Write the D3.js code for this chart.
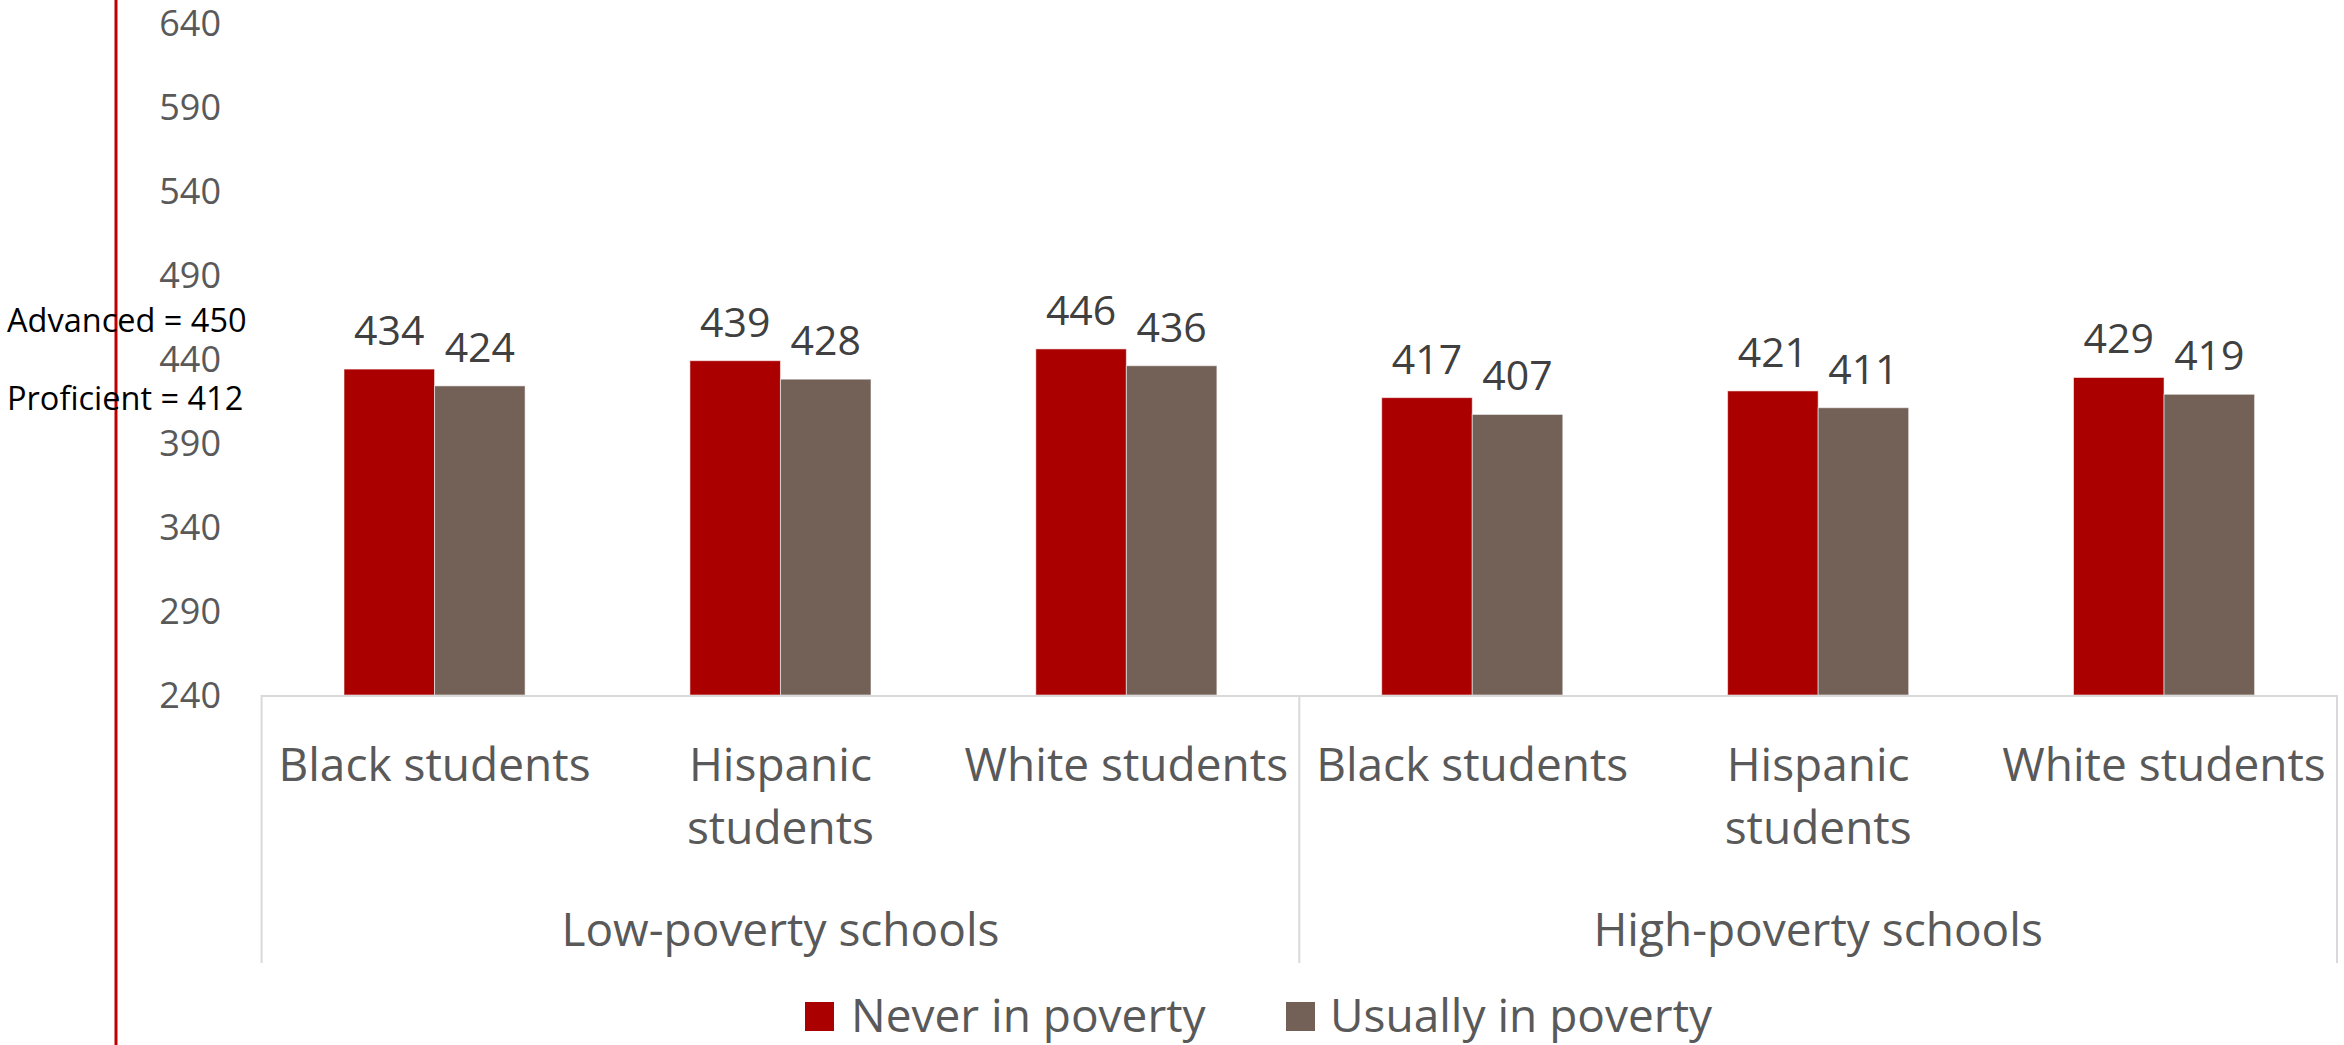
<!DOCTYPE html>
<html>
<head>
<meta charset="utf-8">
<script src="https://cdn.jsdelivr.net/npm/d3@7"></script>
<style>
  html, body { margin: 0; padding: 0; background: #fff; }
  svg { display: block; font-family: "Open Sans", sans-serif; }
</style>
</head>
<body>
<svg id="chart" width="2344" height="1045"></svg>
<script>
// ---- data ----
const groups = ["Low-poverty schools", "High-poverty schools"];
const categories = ["Black students", "Hispanic students", "White students",
                    "Black students", "Hispanic students", "White students"];
const categoryGroup = [0, 0, 0, 1, 1, 1];
const seriesNames = ["Never in poverty", "Usually in poverty"];
const neverInPoverty = [434, 439, 446, 417, 421, 429];
const usuallyInPoverty = [424, 428, 436, 407, 411, 419];
const yTicks = [240, 290, 340, 390, 440, 490, 540, 590, 640];
const annotations = ["Advanced = 450", "Proficient = 412"];
const colors = ["#ab0000", "#736158"];

// ---- layout ----
const W = 2344, H = 1045;
const plotLeft = 261.6, plotRight = 2337, plotTop = 23, plotBottom = 695;
const svg = d3.select("#chart");

const y = d3.scaleLinear().domain([240, 640]).range([plotBottom, plotTop]);
const x = d3.scaleBand().domain(d3.range(categories.length)).range([plotLeft, plotRight]).padding(0);
const step = x.bandwidth();
const groupW = step * 0.5235;
const xs = d3.scaleBand().domain([0, 1]).range([(step - groupW) / 2, (step + groupW) / 2]).padding(0);

// y tick labels
const yAxis = d3.axisLeft(y).tickValues(yTicks).tickSize(0).tickPadding(0);
const ya = svg.append("g").attr("transform", "translate(221,0)").call(yAxis);
ya.select(".domain").remove();
ya.selectAll("text")
  .attr("font-family", "Open Sans, sans-serif")
  .attr("font-size", 36)
  .attr("fill", "#595959")
  .attr("dy", "0.36em");

// bars
const seriesData = [neverInPoverty, usuallyInPoverty];
seriesData.forEach((vals, si) => {
  const g = svg.append("g");
  g.selectAll("rect").data(vals).join("rect")
    .attr("x", (d, i) => x(i) + xs(si))
    .attr("y", d => y(d))
    .attr("width", xs.bandwidth())
    .attr("height", d => y(240) - y(d))
    .attr("fill", colors[si])
    .attr("stroke", "rgba(255,255,255,0.55)")
    .attr("stroke-width", 1);
  g.selectAll("text").data(vals).join("text")
    .attr("x", (d, i) => x(i) + xs(si) + xs.bandwidth() / 2)
    .attr("y", d => y(d) - 24)
    .attr("text-anchor", "middle")
    .attr("font-size", 41)
    .attr("fill", "#404040")
    .text(d => d);
});

// category axis lines
const axisColor = "#d9d9d9";
svg.append("line")
  .attr("x1", plotLeft).attr("x2", plotRight)
  .attr("y1", plotBottom + 1).attr("y2", plotBottom + 1)
  .attr("stroke", axisColor).attr("stroke-width", 2);
const dividers = [0, 3, 6].map(i => i < categories.length ? x(i) : plotRight);
svg.selectAll(".div").data(dividers).join("line")
  .attr("x1", d => d).attr("x2", d => d)
  .attr("y1", plotBottom).attr("y2", 963)
  .attr("stroke", axisColor).attr("stroke-width", 2);

// category labels (wrapped)
const catG = svg.append("g");
categories.forEach((c, i) => {
  const cx = x(i) + step / 2;
  const t = catG.append("text")
    .attr("x", cx).attr("y", 781)
    .attr("text-anchor", "middle")
    .attr("font-size", 46)
    .attr("fill", "#595959")
    .text(c);
  if (t.node().getComputedTextLength() > step - 6) {
    const words = c.split(" ");
    t.text(null);
    t.append("tspan").attr("x", cx).attr("dy", 0).text(words[0]);
    t.append("tspan").attr("x", cx).attr("dy", 63).text(words.slice(1).join(" "));
  }
});

// group labels
groups.forEach((gname, gi) => {
  const idx = categoryGroup.map((g, i) => g === gi ? i : -1).filter(i => i >= 0);
  const x0 = x(idx[0]), x1 = x(idx[idx.length - 1]) + step;
  svg.append("text")
    .attr("x", (x0 + x1) / 2).attr("y", 946)
    .attr("text-anchor", "middle")
    .attr("font-size", 46)
    .attr("fill", "#595959")
    .text(gname);
});

// legend
const legendItems = [{ x: 805, tx: 851 }, { x: 1286, tx: 1330 }];
legendItems.forEach((li, i) => {
  svg.append("rect").attr("x", li.x).attr("y", 1002).attr("width", 29).attr("height", 29).attr("fill", colors[i]);
  svg.append("text").attr("x", li.tx).attr("y", 1032)
    .attr("font-size", 46).attr("fill", "#595959").text(seriesNames[i]);
});

// red vertical line
svg.append("line")
  .attr("x1", 116).attr("x2", 116).attr("y1", 0).attr("y2", H)
  .attr("stroke", "#c00000").attr("stroke-width", 3);

// annotations
svg.append("text").attr("x", 7).attr("y", 331.5)
  .attr("font-size", 32.5).attr("fill", "#000").text(annotations[0]);
svg.append("text").attr("x", 7).attr("y", 410)
  .attr("font-size", 32.5).attr("fill", "#000").text(annotations[1]);
</script>
</body>
</html>
